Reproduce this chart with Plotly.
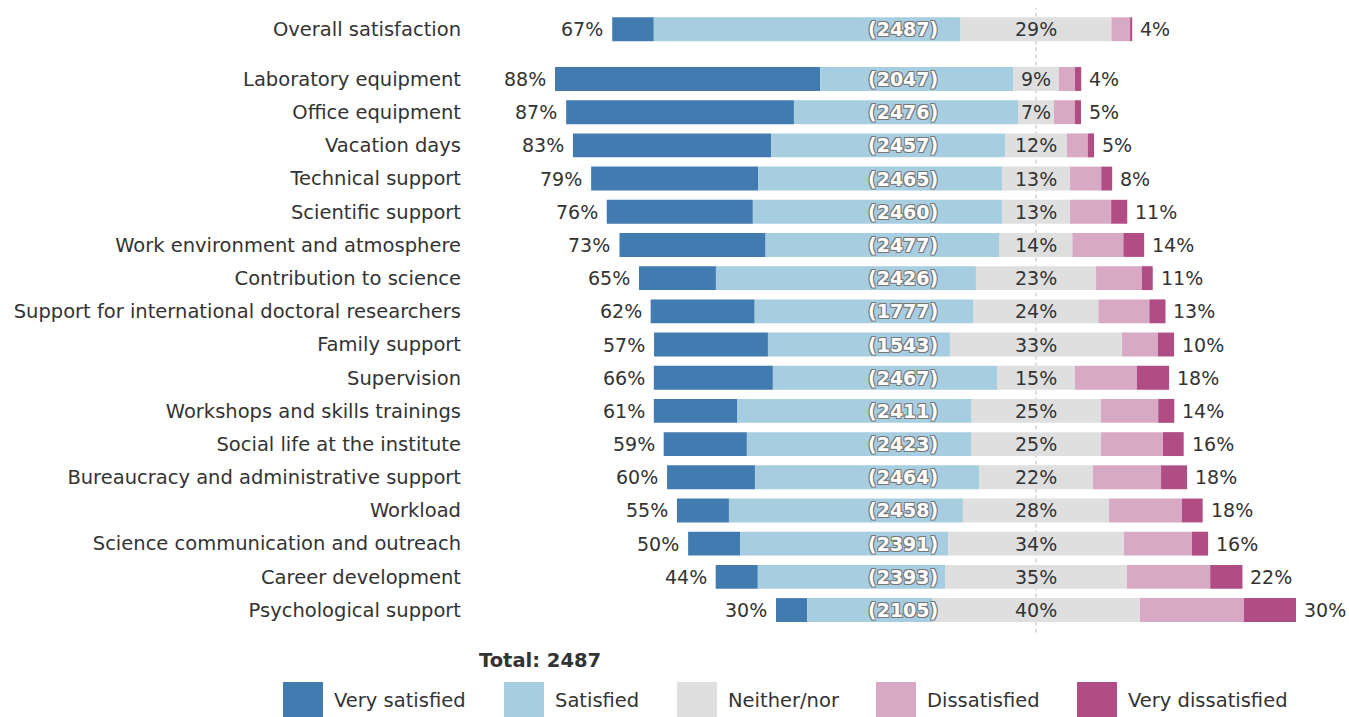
import plotly.graph_objects as go

categories = [
    "Overall satisfaction",
    "Laboratory equipment",
    "Office equipment",
    "Vacation days",
    "Technical support",
    "Scientific support",
    "Work environment and atmosphere",
    "Contribution to science",
    "Support for international doctoral researchers",
    "Family support",
    "Supervision",
    "Workshops and skills trainings",
    "Social life at the institute",
    "Bureaucracy and administrative support",
    "Workload",
    "Science communication and outreach",
    "Career development",
    "Psychological support",
]
row_pos = [-1.5, 0, 1, 2, 3, 4, 5, 6, 7, 8, 9, 10, 11, 12, 13, 14, 15, 16]

very_satisfied = [8.0, 51.0, 43.8, 38.1, 32.1, 28.1, 28.1, 14.8, 20.0, 21.9, 22.9, 16.0, 16.0, 16.9, 10.0, 10.0, 8.1, 6.0]
satisfied = [59.0, 37.1, 43.1, 45.0, 46.9, 47.9, 45.0, 50.0, 42.1, 35.0, 43.1, 45.0, 43.1, 43.1, 45.0, 40.0, 36.0, 24.0]
neither = [29.0, 8.8, 6.9, 11.9, 13.1, 13.1, 14.0, 23.1, 24.0, 33.1, 15.0, 25.0, 25.0, 21.9, 28.1, 33.8, 35.0, 40.0]
dissatisfied = [3.6, 3.1, 4.0, 4.0, 6.0, 7.9, 9.8, 8.8, 9.8, 6.9, 11.9, 11.0, 11.9, 13.1, 14.0, 13.1, 16.0, 20.0]
very_dissatisfied = [0.4, 1.2, 1.2, 1.2, 2.1, 3.1, 4.0, 2.1, 3.1, 3.1, 6.2, 3.1, 4.0, 5.0, 4.0, 3.1, 6.2, 10.0]
counts = [2487, 2047, 2476, 2457, 2465, 2460, 2477, 2426, 1777, 1543, 2467, 2411, 2423, 2464, 2458, 2391, 2393, 2105]
total_n = 2487

series_names = ["Very satisfied", "Satisfied", "Neither/nor", "Dissatisfied", "Very dissatisfied"]
colors = ["#427bb0", "#a7cde1", "#dfdfdf", "#d8a9c5", "#b04d85"]

FONT = "DejaVu Sans"
TXT = "#333333"
FS = 19
FS_LABEL = 19.5

n = len(categories)
left_start = [-(very_satisfied[i] + satisfied[i] + neither[i] / 2) for i in range(n)]
bases = [
    left_start,
    [left_start[i] + very_satisfied[i] for i in range(n)],
    [-neither[i] / 2 for i in range(n)],
    [neither[i] / 2 for i in range(n)],
    [neither[i] / 2 + dissatisfied[i] for i in range(n)],
]
values = [very_satisfied, satisfied, neither, dissatisfied, very_dissatisfied]

fig = go.Figure()
for k in range(5):
    fig.add_trace(go.Bar(
        y=row_pos, x=values[k], base=bases[k], orientation="h",
        name=series_names[k], marker=dict(color=colors[k], line=dict(width=0)),
        width=0.72, showlegend=False,
    ))

annotations = []
for i in range(n):
    left_total = very_satisfied[i] + satisfied[i]
    right_total = dissatisfied[i] + very_dissatisfied[i]
    right_end = neither[i] / 2 + right_total
    annotations.append(dict(x=left_start[i], y=row_pos[i], xref="x", yref="y",
                            text=f"{round(left_total)}%", showarrow=False,
                            xanchor="right", xshift=-7,
                            font=dict(family=FONT, size=FS, color=TXT)))
    annotations.append(dict(x=0, y=row_pos[i], xref="x", yref="y",
                            text=f"{round(neither[i])}%", showarrow=False,
                            xanchor="center",
                            font=dict(family=FONT, size=FS, color=TXT)))
    annotations.append(dict(x=right_end, y=row_pos[i], xref="x", yref="y",
                            text=f"{round(right_total)}%", showarrow=False,
                            xanchor="left", xshift=6,
                            font=dict(family=FONT, size=FS, color=TXT)))
    annotations.append(dict(x=-25.5, y=row_pos[i], xref="x", yref="y",
                            text=f"({counts[i]})", showarrow=False,
                            xanchor="center",
                            font=dict(family=FONT, size=FS, color="white", weight="bold",
                                      shadow="-1px -1px 0 #777, 1px -1px 0 #777, -1px 1px 0 #777, 1px 1px 0 #777")))

# layout geometry (page pixels; body margin removed below)
W, H = 1349, 717
PL, PR, PT, PB = 470, 1339, 8, 630
CENTER = 1036
PX_PER_PCT = 5.2
ROW0 = 79
PX_PER_ROW = 33.19


def px_x(px):
    return (px - PL) / (PR - PL)


def px_y(py):
    return (PB - py) / (PB - PT)


annotations.append(dict(x=px_x(540), y=px_y(660), xref="paper", yref="paper",
                        text=f"<b>Total: {total_n}</b>", showarrow=False,
                        xanchor="center", yanchor="middle",
                        font=dict(family=FONT, size=FS_LABEL, color=TXT)))

shapes = [dict(type="line", xref="x", yref="paper", x0=0, x1=0, y0=-0.004, y1=1,
               line=dict(color="#cccccc", width=1.3, dash="4px,3px"), layer="below")]

legend_swatch_x = [283, 504, 677, 876, 1077]
for k in range(5):
    sx = legend_swatch_x[k]
    shapes.append(dict(type="rect", xref="paper", yref="paper",
                       x0=px_x(sx), x1=px_x(sx + 40), y0=px_y(682), y1=px_y(722),
                       fillcolor=colors[k], line=dict(width=0), layer="above"))
    annotations.append(dict(x=px_x(sx + 49), y=px_y(700), xref="paper", yref="paper",
                            text=series_names[k], showarrow=False,
                            xanchor="left", yanchor="middle",
                            font=dict(family=FONT, size=FS_LABEL, color=TXT)))

fig.update_layout(
    width=W, height=H,
    margin=dict(l=PL, r=W - PR, t=PT, b=H - PB, pad=0),
    barmode="overlay",
    plot_bgcolor="white", paper_bgcolor="white",
    xaxis=dict(visible=False,
               range=[(PL - CENTER) / PX_PER_PCT, (PR - CENTER) / PX_PER_PCT], fixedrange=True),
    yaxis=dict(range=[(PB - ROW0) / PX_PER_ROW, (PT - ROW0) / PX_PER_ROW],
               tickvals=row_pos, ticktext=categories,
               ticks="", showgrid=False, zeroline=False, showline=False,
               tickfont=dict(family=FONT, size=FS_LABEL, color=TXT), ticklabelstandoff=8),
    annotations=annotations,
    shapes=shapes,
    font=dict(family=FONT, color=TXT),
)

fig.write_html(
    "out.html",
    config={"displayModeBar": False},
    post_script="document.body.style.margin='0';document.documentElement.style.overflow='hidden';document.body.style.overflow='hidden';",
)
